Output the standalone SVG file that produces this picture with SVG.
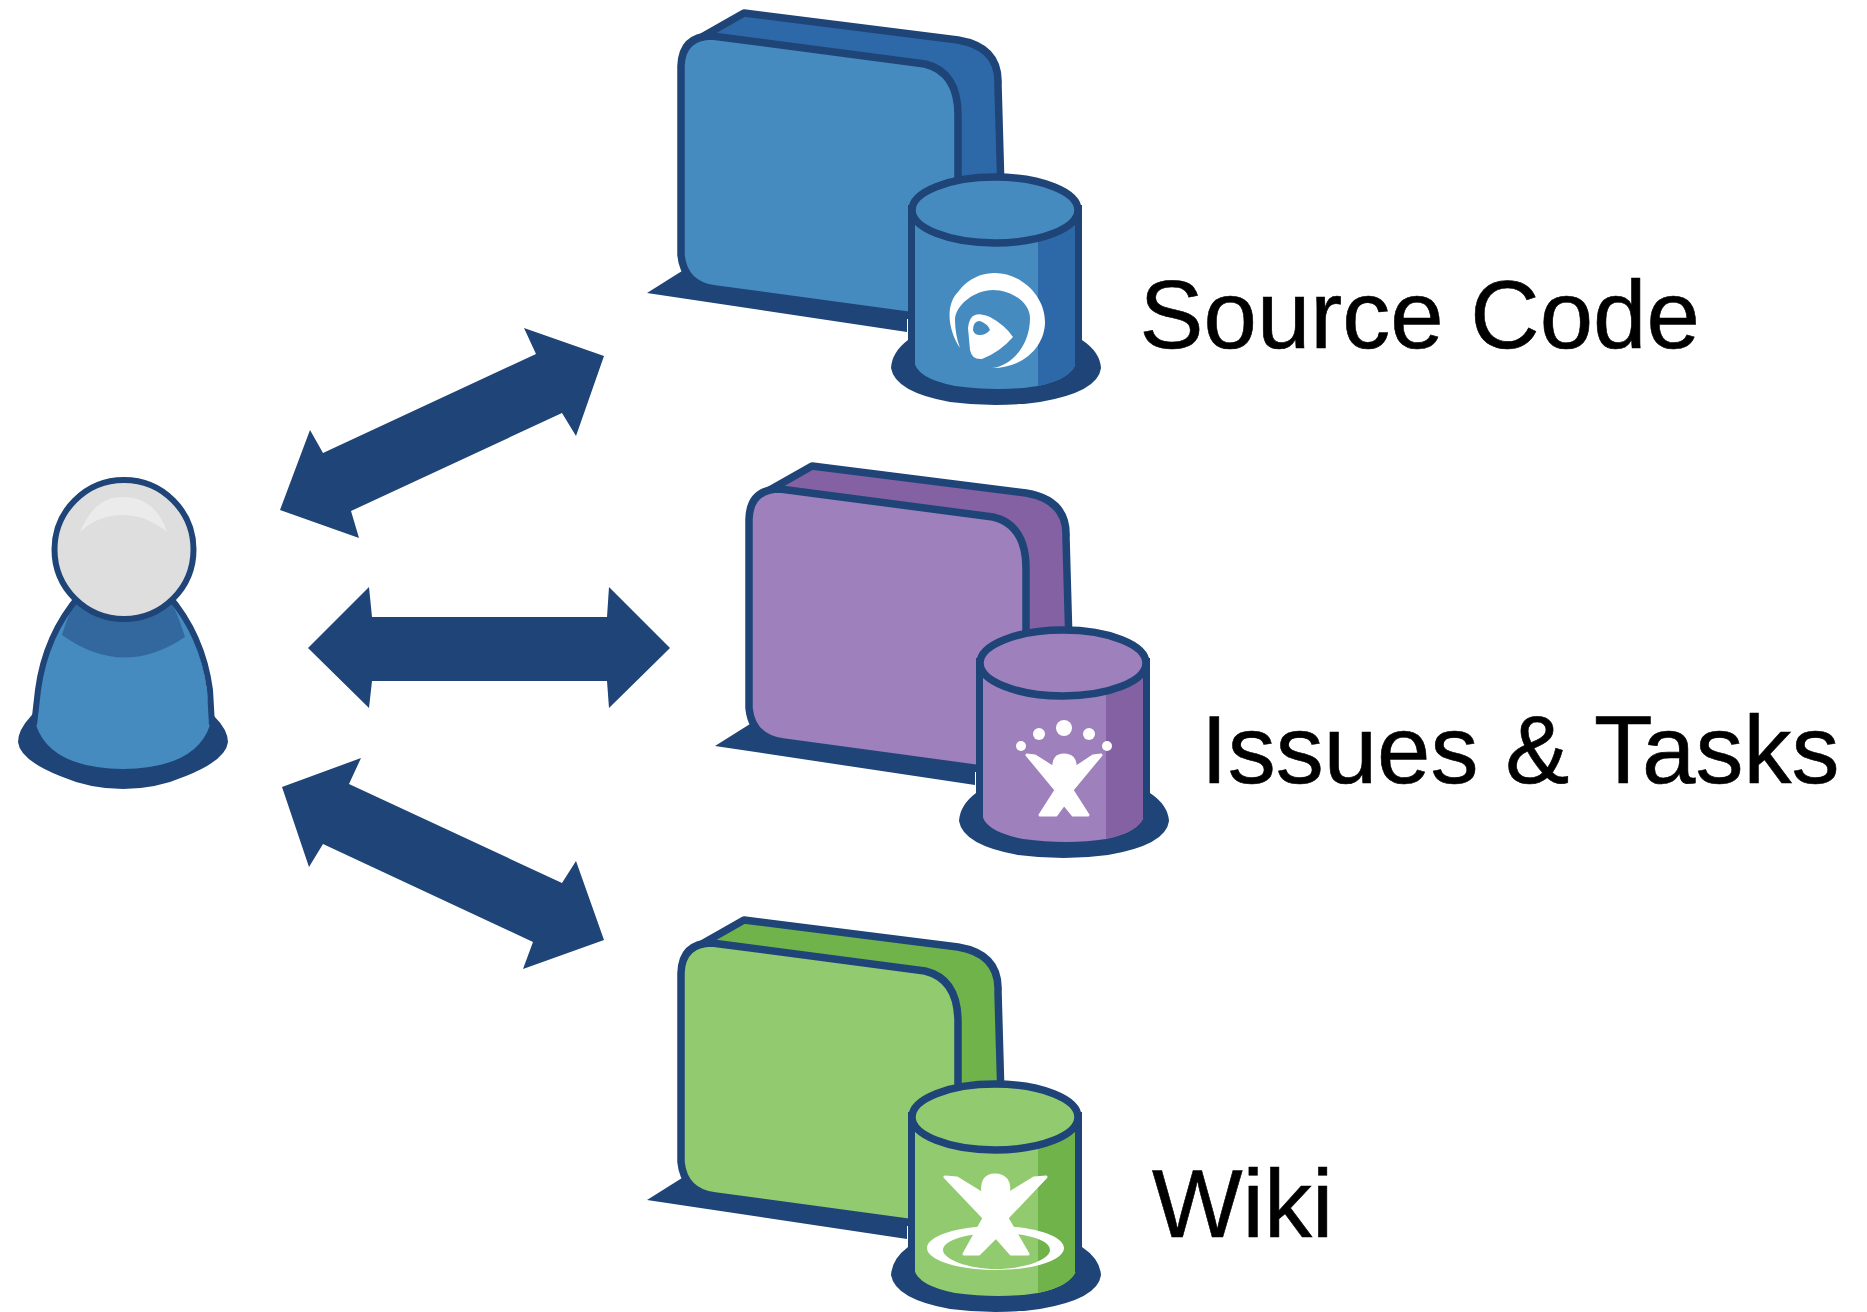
<svg xmlns="http://www.w3.org/2000/svg" width="1867" height="1312" viewBox="0 0 1867 1312">
<style>
.line{fill:#1f4477}
.st{stroke:#1f4477;stroke-width:7.5;stroke-linejoin:round}
.w{fill:#fff}
.fig{fill:#fff;stroke:#fff;stroke-width:3;stroke-linejoin:round}
text{font-family:"Liberation Sans",Arial,sans-serif;font-size:96px;fill:#000;stroke:#000;stroke-width:.6}
.blue{--m:#458bc0;--d:#2d69a8}
.purple{--m:#9e80bc;--d:#8361a2}
.green{--m:#92cb6f;--d:#70b34b}
.m{fill:var(--m)}
.d{fill:var(--d)}
</style>
<defs>
<g id="store">
<path class="line" d="M647 293 L682 271 L907 300 V332 Z"/>
<path class="d st" d="M684 57 Q686 46 693 42 L744 13 L958 40 Q1000 47 998 85 L1001 190 H940 L700 60 Z"/>
<path class="m st" d="M681 66 Q682 36 712 36 L925 64 Q958 72 958 115 V322 L715 289 Q684 285 681 255 Z"/>
<path class="line" d="M908 340 L1082 340 Q1100 352 1101 368 Q1098 392 1040 402 Q996 408 950 402 Q895 392 891 368 Q892 352 908 340 Z"/>
<path class="m" d="M914 205 H1076 V360 Q1076 378 1038 386 Q1000 392 955 386 Q915 378 914 360 Z"/>
<path class="d" d="M1038 225 H1077 V360 Q1075 378 1038 386 Z"/>
<path class="line" d="M1038 387 Q1070 380 1078 362 V372 Q1065 385 1038 396 Z"/>
<path fill="none" stroke="#1f4477" stroke-width="7" d="M911.500 205 V365 M1078.500 205 V365"/>
<ellipse class="m st" cx="995" cy="210" rx="83" ry="33"/>
</g>
</defs>
<g id="connectors" class="line">
<path id="arrow-top" d="M604 356 L524 328 L536 354 L323 453 L310 430 L280 510 L359 538 L351 511 L562 413 L576 436 Z"/>
<path id="arrow-mid" d="M308 648 L369 587 L372 617 H607 L609 587 L670 648 L609 708 L607 681 H372 L369 708 Z"/>
<path id="arrow-bottom" d="M282 787 L361 758 L349 784 L562 883 L576 861 L604 940 L523 969 L533 942 L323 844 L309 867 Z"/>
</g>
<g id="user">
<path class="line" d="M31 716 Q18 730 18 742 Q20 760 60 776 Q90 789 123 789 Q156 789 186 776 Q226 760 228 742 Q228 730 214 716 L200 700 H45 Z"/>
<path fill="#458bc0" d="M80 595 C56 625 44 660 40 690 L36 725 Q50 768 123 769 Q196 768 210 725 L207 690 C203 660 192 625 168 595 Z"/>
<path fill="#32689e" d="M80 595 C70 610 66 622 62 635 Q123 679 185 637 C180 622 176 610 168 595 Z"/>
<path fill="none" stroke="#1f4477" stroke-width="6" d="M80 595 C54 625 42 660 38 690 L34 725 M168 595 C194 625 206 660 210 690 L212 725"/>
<circle cx="124" cy="549.500" r="69.500" fill="#dedede" stroke="#1f4477" stroke-width="6"/>
<path fill="#ebebeb" d="M80 532 C92 505 105 497 123 497 C145 497 160 510 167 532 C150 518 135 515 123 515 C110 515 95 518 80 532 Z"/>
</g>
<g id="source-code" class="blue">
<use href="#store"/>
<path class="w" d="M960 348 C948 330 945 305 958 292 C970 276 985 273 995 273 C1020 273 1045 295 1045 322 C1045 345 1025 368 992 368 C1012 366 1030 345 1030 318 C1030 303 1012 290 993 290 C975 290 955 305 955 320 C955 330 957 340 960 348 Z"/>
<path class="w" fill-rule="evenodd" d="M975 315 Q980 313 990 317 Q1005 325 1013 337 Q1000 352 982 359 Q972 360 970 350 L968 328 Q969 317 975 315 Z M973 330 Q973 321 980 321 Q988 324 990 330 Q986 335 980 335 Q974 335 973 330 Z"/>
<text x="1139.500" y="348">Source Code</text>
</g>
<g id="issues-tasks" class="purple">
<use href="#store" x="68" y="453"/>
<g class="w">
<circle cx="1064" cy="728" r="8"/><circle cx="1039" cy="734" r="6"/><circle cx="1089" cy="734" r="6"/><circle cx="1021" cy="746" r="5"/><circle cx="1107" cy="746" r="5"/>
<path class="fig" d="M1027 755 L1035 756 L1054 768 C1053 759 1057 755 1064 755 C1071 755 1076 759 1075 768 L1093 756 L1101 755 L1072 790 L1088 815 H1073 L1064 804 L1056 815 H1040 L1056 790 Z"/>
</g>
<text x="1201" y="783">Issues &amp; Tasks</text>
</g>
<g id="wiki" class="green">
<use href="#store" y="907"/>
<g class="w">
<path fill-rule="evenodd" d="M927 1248 C927 1236 958 1226 996 1226 C1034 1226 1064 1236 1064 1248 C1064 1260 1034 1270 996 1270 C958 1270 927 1260 927 1248 Z M943 1250 C943 1259 968 1269 996 1269 C1026 1269 1050 1259 1050 1250 C1050 1240 1026 1233 996 1233 C968 1233 943 1240 943 1250 Z"/>
<path class="fig" d="M945 1177 L957 1178 L983 1194 C981 1182 985 1175 995 1175 C1005 1175 1011 1182 1008 1194 L1034 1178 L1046 1177 L1007 1218 L1028 1254 H1011 L996 1237 L979 1254 H964 L984 1218 Z"/>
</g>
<text x="1152" y="1237">Wiki</text>
</g>
</svg>
